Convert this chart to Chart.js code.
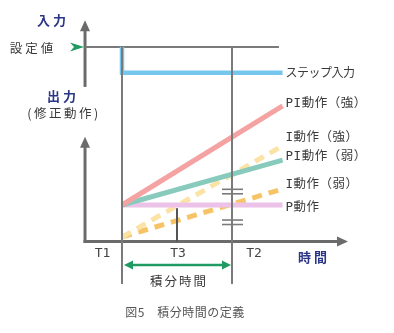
<!DOCTYPE html>
<html lang="ja">
<head>
<meta charset="utf-8">
<script src="https://cdn.jsdelivr.net/npm/chart.js@4.4.1/dist/chart.umd.min.js"></script>
<style>
html,body{margin:0;padding:0;background:#fff;}
#wrap{width:394px;height:333px;}
</style>
</head>
<body>
<div id="wrap"><canvas id="c" width="394" height="333"></canvas></div>
<script>
// time axis: T1 = 0, T2 = integral time (1)
const tickNames=['T1','T3','T2'];
const tickTimes=[0,0.5,1];
const lineTimes=[0,1.46];

// input side
const setpoint=5.94;
const stepTimes=[0,0,1.46];
const stepValues=[5.94,5.13,5.13];

// output side, value at T1 and at the end
const piStrong=[1,4.1];
const iStrong=[0,2.85];
const piWeak=[1,2.4];
const iWeak=[0,1.5];
const pAction=[1,1];
const seriesNames=['ステップ入力','PI動作（強）','I動作（強）','PI動作（弱）','I動作（弱）','P動作'];

const pts=(xs,ys)=>xs.map((x,i)=>({x,y:ys[i]}));
const line=(data,color,dash)=>({
  data,borderColor:color,borderWidth:5,borderDash:dash||[],
  borderCapStyle:'butt',showLine:true,pointRadius:0,fill:false,tension:0
});

const AXIS='#6b6b6b', THIN='#7a7a7a', NAVY='#2b3686', TXT='#3a3a3a', GREEN='#1f9a62';
const JP='"Noto Sans CJK JP","Noto Sans",sans-serif';
const MIX='"DejaVu Sans Mono","Noto Sans CJK JP",sans-serif';

function text(ctx,str,x,y,font,color,align,spacing){
  ctx.save();
  ctx.font=font;ctx.fillStyle=color;ctx.textAlign=align||'left';ctx.textBaseline='middle';
  ctx.letterSpacing=spacing||'0px';
  ctx.fillText(str,x,y);
  ctx.restore();
}
function seg(ctx,x1,y1,x2,y2,w,color){
  ctx.save();ctx.strokeStyle=color;ctx.lineWidth=w;ctx.lineCap='butt';
  ctx.beginPath();ctx.moveTo(x1,y1);ctx.lineTo(x2,y2);ctx.stroke();ctx.restore();
}
function tri(ctx,p,color){
  ctx.save();ctx.fillStyle=color;ctx.beginPath();
  ctx.moveTo(p[0],p[1]);for(let i=2;i<p.length;i+=2) ctx.lineTo(p[i],p[i+1]);
  ctx.closePath();ctx.fill();ctx.restore();
}

const diagram={
  id:'diagram',
  beforeDatasetsDraw(chart){
    const {ctx}=chart;
    const X=t=>chart.scales.x.getPixelForValue(t);
    const Y=v=>chart.scales.y.getPixelForValue(v);
    const ax=X(-0.336), base=Y(-0.14);
    // input axis
    seg(ctx,ax,Y(4.69),ax,Y(6.77)+9,3,AXIS);
    tri(ctx,[ax,Y(6.77),ax-5,Y(6.77)+11,ax+5,Y(6.77)+11],AXIS);
    // setpoint line
    seg(ctx,ax,Y(setpoint),X(1.427),Y(setpoint),2,THIN);
    // output axes
    seg(ctx,ax,base+1.5,ax,Y(3.13)+9,3,AXIS);
    tri(ctx,[ax,Y(3.13),ax-5,Y(3.13)+11,ax+5,Y(3.13)+11],AXIS);
    seg(ctx,ax-1.5,base,X(2.055)-9,base,3,AXIS);
    tri(ctx,[X(2.055),base,X(2.055)-11,base-5,X(2.055)-11,base+5],AXIS);
  },
  afterDatasetsDraw(chart){
    const {ctx}=chart;
    const X=t=>chart.scales.x.getPixelForValue(t);
    const Y=v=>chart.scales.y.getPixelForValue(v);
    const ax=X(-0.336), base=Y(-0.14);
    // T1 / T2 verticals and T3 tick
    [tickTimes[0],tickTimes[2]].forEach(t=>seg(ctx,X(t),Y(setpoint),X(t),Y(-1.47),2,THIN));
    seg(ctx,X(tickTimes[1]),Y(0.9),X(tickTimes[1]),base,2,'#555');
    // break marks on T2
    const t2=X(tickTimes[2]);
    [1.49,1.35,0.53,0.39].forEach(v=>seg(ctx,t2-10,Y(v),t2+11,Y(v),1.6,THIN));
    // setpoint marker
    const sy=Y(setpoint);
    tri(ctx,[ax-1,sy,ax-15,sy-4.5,ax-11,sy,ax-15,sy+4.5],GREEN);
    // integral time arrow
    const ay=Y(-0.875), l=X(tickTimes[0])+2, r=X(tickTimes[2])-1;
    seg(ctx,l+6,ay,r-6,ay,2.5,GREEN);
    tri(ctx,[l,ay,l+9,ay-4.5,l+9,ay+4.5],GREEN);
    tri(ctx,[r,ay,r-9,ay-4.5,r-9,ay+4.5],GREEN);
    // axis titles
    text(ctx,'入力',53,20,'bold 13px '+JP,NAVY,'center','3px');
    text(ctx,'設定値',33,48,'12.5px '+JP,TXT,'center','3px');
    text(ctx,'出力',63,96,'bold 13px '+JP,NAVY,'center','3px');
    text(ctx,'(修正動作)',64,113,'12.5px '+JP,TXT,'center','2.5px');
    text(ctx,'時間',314,257,'bold 13px '+JP,NAVY,'center','3px');
    // tick labels
    const tdx=[-19.5,1,22];
    tickNames.forEach((n,i)=>text(ctx,n,X(tickTimes[i])+tdx[i],254,'13px '+MIX,'#444','center'));
    text(ctx,'積分時間',179,281,'12.5px '+JP,TXT,'center','2px');
    // series labels at line ends
    const ends=[stepValues[2],piStrong[1],iStrong[1],piWeak[1],iWeak[1],pAction[1]];
    const dy=[0,-2,-8,-3,-4,3];
    const lx=X(lineTimes[1])+3;
    seriesNames.forEach((n,i)=>{
      const font=i===0?'12px '+JP:'12.5px '+MIX;
      text(ctx,n,lx,Y(ends[i])+dy[i],font,TXT,'left',i===0?'-0.5px':'0.5px');
    });
    // caption
    text(ctx,'図5　積分時間の定義',185,312,'12px '+JP,'#555','center','0.5px');
  }
};

new Chart(document.getElementById('c'),{
  type:'scatter',
  data:{datasets:[
    line(pts(lineTimes,piStrong),'#f5a2a2'),
    line(pts(lineTimes,piWeak),'#88cbbd'),
    line(pts(lineTimes,pAction),'#ecc2e8'),
    line(pts(lineTimes,iStrong),'#fbe3a6',[10,7]),
    line(pts(lineTimes,iWeak),'#f6c466',[10,7]),
    Object.assign(line(pts(stepTimes,stepValues),'#76c7ee'),{borderWidth:4.5})
  ]},
  options:{
    responsive:false,animation:false,events:[],
    layout:{padding:0},
    plugins:{legend:{display:false},tooltip:{enabled:false}},
    scales:{
      x:{type:'linear',min:-1.109,max:2.473,display:false},
      y:{type:'linear',min:-3,max:7.40625,display:false}
    }
  },
  plugins:[diagram]
});
</script>
</body>
</html>
